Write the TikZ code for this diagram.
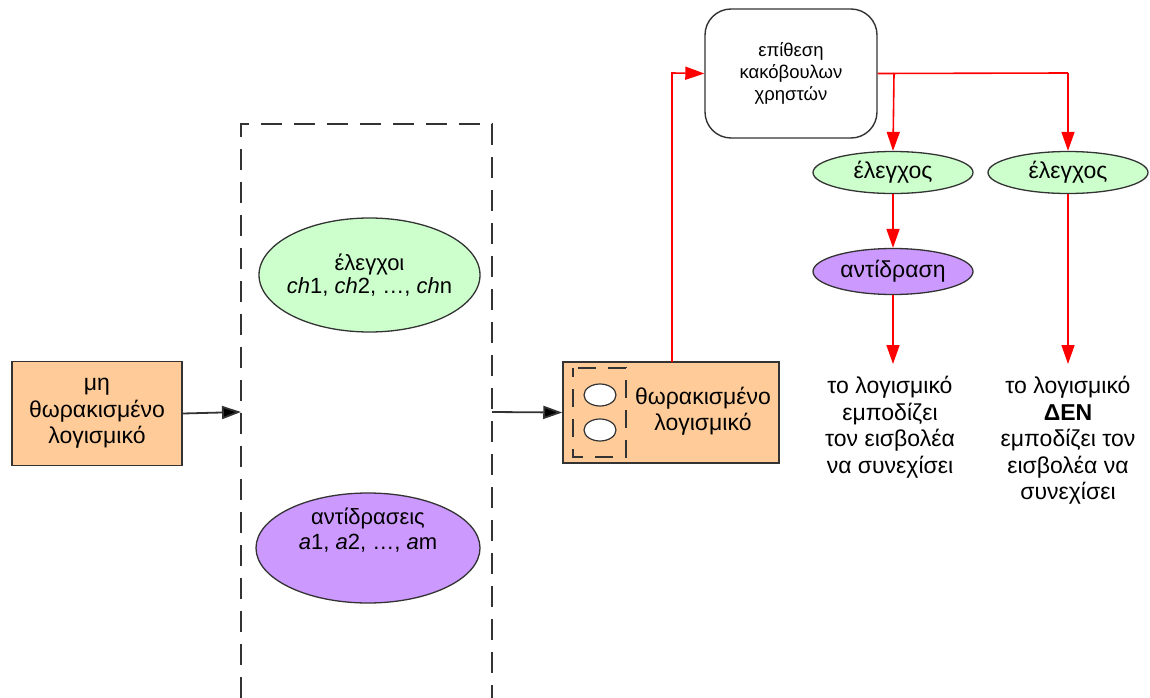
\documentclass[tikz,border=0pt]{standalone}
\usepackage{fontspec}
\setmainfont{Liberation Sans}
\usetikzlibrary{arrows.meta,shapes.geometric}
\definecolor{boxorange}{HTML}{FFCC99}
\definecolor{chkgreen}{HTML}{CCFFCC}
\definecolor{actpurple}{HTML}{CC99FF}
\definecolor{edgegray}{HTML}{333333}
\tikzset{
  softbox/.style={draw=edgegray, line width=1.5pt, fill=boxorange, minimum width=170pt, minimum height=104pt, inner sep=0pt, align=center},
  chkell/.style={ellipse, draw=edgegray, line width=1.3pt, fill=chkgreen, inner sep=0pt, align=center},
  actell/.style={ellipse, draw=edgegray, line width=1.3pt, fill=actpurple, inner sep=0pt, align=center},
  bigtext/.style={font=\fontsize{23}{26.5}\selectfont},
  midtext/.style={font=\fontsize{18.5}{22}\selectfont},
  blackarrow/.style={line width=1.8pt, draw=edgegray, -{Triangle[length=19pt,width=13pt,fill=black]}},
  redarrow/.style={line width=1.6pt, draw=red, -{Triangle[length=19pt,width=13pt]}},
  frame/.style={draw=edgegray, line width=2pt, dash pattern=on 21pt off 12pt},
}
\begin{document}
\begin{tikzpicture}[x=1pt,y=-1pt]
\useasboundingbox (0,0) rectangle (1150,698);

% unprotected software
\node[softbox, bigtext] (raw) at (97,413.5) {μη\\θωρακισμένο\\λογισμικό};

% dashed container of checks and reactions (open at the bottom)
\draw[frame] (241,698) -- (241,124) -- (492,124) -- (492,698);
\coordinate (framein) at (241,412);
\coordinate (frameout) at (492,412);

\node[chkell, minimum width=221pt, minimum height=114pt] (checks) at (369.5,275) {};
\node[bigtext, align=center, inner sep=0pt, font=\fontsize{22}{23}\selectfont] (checkstext) at (369.5,275)
  {έλεγχοι\\\textit{ch}1, \textit{ch}2, …, \textit{ch}n};
\node[actell, minimum width=224pt, minimum height=110pt] (acts) at (368,548) {};
\node[bigtext, align=center, inner sep=0pt, font=\fontsize{22}{25}\selectfont] (actstext) at (368,530)
  {αντίδρασεις\\\textit{a}1, \textit{a}2, …, \textit{a}m};

\draw[blackarrow] (raw.east) -- (framein);

% protected software with its embedded guard icon
\node[softbox, minimum width=216pt, minimum height=101pt] (prot) at (671,412.5) {};
\node[bigtext, align=center] (protlabel) at (703,411) {θωρακισμένο\\λογισμικό};
\draw[draw=edgegray, line width=1.8pt, dash pattern=on 18pt off 12pt, dash phase=9pt]
  (573,368) rectangle (626,457);
\node[ellipse, draw=edgegray, line width=1.2pt, fill=white, minimum width=32pt, minimum height=22pt, inner sep=0pt] (slot1) at (600,395) {};
\node[ellipse, draw=edgegray, line width=1.2pt, fill=white, minimum width=32pt, minimum height=22pt, inner sep=0pt] (slot2) at (600,430) {};

\draw[blackarrow] (frameout) -- (prot.west);

% attack by malicious users
\node[draw=edgegray, line width=1.4pt, rounded corners=26pt, fill=white, minimum width=172pt, minimum height=129pt, inner sep=0pt, align=center, midtext] (attack) at (791,73.5)
  {επίθεση\\κακόβουλων\\χρηστών};

\draw[redarrow] (672,362) -- (672,73) -- (attack.west);

% checks performed after the attack
\node[chkell, bigtext, minimum width=160pt, minimum height=42pt] (chkA) at (893,172.5) {έλεγχος};
\node[chkell, bigtext, minimum width=160pt, minimum height=42pt] (chkB) at (1068,172.5) {έλεγχος};
\node[actell, bigtext, minimum width=160pt, minimum height=46pt] (react) at (893,271.5) {αντίδραση};

\coordinate (split) at (894,73);
\coordinate (far) at (1068,73);
\draw[line width=1.6pt, red] (attack.east) -- (far);
\draw[redarrow] (split) -- (chkA.north);
\draw[redarrow] (far) -- (chkB.north);
\draw[redarrow] (chkA.south) -- (react.north);

% outcomes
\node[bigtext, align=center, anchor=north] (stopped) at (890,373)
  {το λογισμικό\\εμποδίζει\\τον εισβολέα\\να συνεχίσει};
\node[bigtext, align=center, anchor=north] (notstopped) at (1068,373)
  {το λογισμικό\\\textbf{ΔΕΝ}\\εμποδίζει τον\\εισβολέα να\\συνεχίσει};
\draw[redarrow] (react.south) -- (893,364);
\draw[redarrow] (chkB.south) -- (1068,364);
\end{tikzpicture}
\end{document}
